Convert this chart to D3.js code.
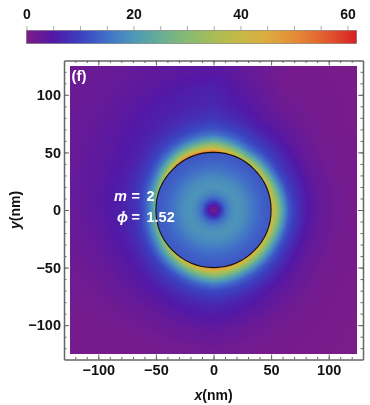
<!DOCTYPE html>
<html>
<head>
<meta charset="utf-8">
<script src="https://cdn.jsdelivr.net/npm/d3@7"></script>
<style>
  html, body { margin: 0; padding: 0; background: #fff; }
  #wrap { position: relative; width: 370px; height: 405px; overflow: hidden; }
  #field { position: absolute; left: 70px; top: 66px; image-rendering: pixelated; }
  svg { position: absolute; left: 0; top: 0; }
  text { font-family: "Liberation Sans", Arial, sans-serif; font-weight: bold; }
</style>
</head>
<body>
<div id="wrap">
  <canvas id="field"></canvas>
  <svg id="chart" width="370" height="405"></svg>
</div>
<script>
// colour legend
const colorStops = [0, 5, 10, 15, 20, 25, 30, 35, 40, 45, 50, 55, 60, 61.7];
const colorValues = ['#7d1c88', '#5218a6', '#3b40c0', '#4170c8', '#4e98b8', '#68ad96', '#88ba72',
  '#a9bd55', '#c6b945', '#dcab3e', '#e48d36', '#e26530', '#da3326', '#d81f22'];
const colorTicks = [0, 20, 40, 60];
const colorMinorTicks = [0, 5, 10, 15, 20, 25, 30, 35, 40, 45, 50, 55, 60];

const majorTicks = [-100, -50, 0, 50, 100];
const minorTicks = [-120, -110, -100, -90, -80, -70, -60, -50, -40, -30, -20, -10, 0,
  10, 20, 30, 40, 50, 60, 70, 80, 90, 100, 110, 120];

const discRadius = 50;

// inside the disc: value against radius
const innerRadii = [0, 3, 6, 10, 15, 20, 25, 30, 35, 40, 45, 50];
const innerValues = [1, 3, 8, 14, 18, 19.5, 19, 17.5, 15.5, 14, 13, 12.5];

// outside the disc: value for each angle (deg) and radius (nm)
const outerRadii = [50, 52, 55, 60, 65, 70, 80, 90, 105, 125, 150, 185];
const outerAngles = [0, 30, 60, 90, 120, 150, 180, 210, 240, 270, 300, 330];
const outerValues = [
  [45, 40, 33, 22, 13, 9.5, 5.5, 3.2, 1.6, 0.8, 0.5, 0.3],
  [42, 37, 28, 17, 11, 8.5, 5.5, 3.2, 1.6, 0.8, 0.5, 0.3],
  [40, 34, 26, 16, 11.5, 9.5, 6, 4, 2.2, 1.1, 0.8, 0.4],
  [57, 46, 36, 24, 16, 12, 8.5, 7, 6, 4, 2.5, 1.5],
  [58, 44, 32, 20, 13.5, 10.5, 7.5, 6, 5, 3.5, 2.5, 1.5],
  [38, 30, 22, 14, 10.5, 8.5, 6, 5, 4, 3, 2, 1.5],
  [27, 22, 17, 12, 9, 7.5, 6, 5, 3.5, 2.5, 1.5, 1],
  [34, 27, 21, 14, 10, 8, 5.5, 4.2, 2.8, 1.6, 1.1, 0.8],
  [48, 38, 28, 18, 12, 9.5, 6.5, 4.5, 2.6, 1.2, 0.8, 0.5],
  [52, 44, 35, 24, 15.5, 11, 7.5, 5.5, 3, 1.2, 0.7, 0.4],
  [50, 41, 31, 20, 13, 10, 6, 4, 2, 0.9, 0.5, 0.3],
  [44, 38, 30, 19, 12, 9, 5, 3, 1.5, 0.7, 0.4, 0.2]
];

const frame = { left: 64, right: 363, top: 60.5, bottom: 359.5 };

const xScale = d3.scaleLinear().domain([-129.8, 129.8]).range([frame.left, frame.right]);
const yScale = d3.scaleLinear().domain([-129.8, 129.8]).range([frame.bottom, frame.top]);
const color = d3.scaleLinear().domain(colorStops).range(colorValues).clamp(true);

const svg = d3.select('#chart');

// lookup helpers for the tables above
function lookup(xs, ys, v) {
  const i = Math.min(Math.max(d3.bisectRight(xs, v) - 1, 0), xs.length - 2);
  const t = (v - xs[i]) / (xs[i + 1] - xs[i]);
  return ys[i] + (ys[i + 1] - ys[i]) * t;
}

function fieldValue(x, y) {
  const r = Math.hypot(x, y);
  if (r < discRadius) return lookup(innerRadii, innerValues, r);
  let a = Math.atan2(y, x) * 180 / Math.PI;
  if (a < 0) a += 360;
  const i = Math.floor(a / 30) % outerAngles.length;
  const j = (i + 1) % outerAngles.length;
  const t = (a - outerAngles[i]) / 30;
  const v0 = lookup(outerRadii, outerValues[i], r);
  const v1 = lookup(outerRadii, outerValues[j], r);
  return v0 + (v1 - v0) * t;
}

// Draw the density image
function drawField() {
  const left = Math.round(xScale(-125));
  const right = Math.round(xScale(125));
  const top = Math.round(yScale(125));
  const bottom = Math.round(yScale(-125));
  const canvas = document.getElementById('field');
  canvas.width = right - left;
  canvas.height = bottom - top;
  canvas.style.left = left + 'px';
  canvas.style.top = top + 'px';
  const ctx = canvas.getContext('2d');
  for (let py = 0; py < canvas.height; py++) {
    for (let px = 0; px < canvas.width; px++) {
      const x = xScale.invert(left + px + 0.5);
      const y = yScale.invert(top + py + 0.5);
      ctx.fillStyle = color(fieldValue(x, y));
      ctx.fillRect(px, py, 1, 1);
    }
  }
}

// Draw the colour bar and its axis
function drawColorBar() {
  const barX = d3.scaleLinear().domain([0, 61.7]).range([26.5, 356.5]);
  const defs = svg.append('defs');
  const grad = defs.append('linearGradient').attr('id', 'bar');
  colorStops.forEach((s, i) => {
    grad.append('stop').attr('offset', s / 61.7).attr('stop-color', colorValues[i]);
  });
  svg.append('rect')
    .attr('x', barX(0)).attr('y', 30.5)
    .attr('width', barX(61.7) - barX(0)).attr('height', 13)
    .attr('fill', 'url(#bar)')
    .attr('stroke', '#555').attr('stroke-opacity', 0.6).attr('stroke-width', 0.8);

  const minor = svg.append('g').attr('transform', 'translate(0,30)')
    .call(d3.axisTop(barX).tickValues(colorMinorTicks).tickSize(4).tickFormat(''));
  minor.select('.domain').remove();
  minor.selectAll('line').attr('stroke', '#aaa');

  const major = svg.append('g').attr('transform', 'translate(0,30)')
    .call(d3.axisTop(barX).tickValues(colorTicks).tickSize(0).tickPadding(11).tickFormat(d3.format('d')));
  major.select('.domain').remove();
  major.selectAll('text').attr('font-size', 14).attr('fill', '#111')
    .style('font-family', '"Liberation Sans", Arial, sans-serif');
}

const fmt = (d) => (d < 0 ? '\u2212' + Math.abs(d) : String(d));

// One frame side: minor ticks, major ticks, optional labels
function frameSide(axisFn, scale, transform, labelled, padding) {
  const minor = svg.append('g').attr('transform', transform)
    .call(axisFn(scale).tickValues(minorTicks).tickSize(-2.5).tickSizeOuter(0).tickFormat(''));
  minor.selectAll('line').attr('stroke', '#666');
  minor.select('.domain').remove();

  const major = svg.append('g').attr('transform', transform)
    .call(axisFn(scale).tickValues(majorTicks).tickSize(-5).tickSizeOuter(0).tickPadding(padding)
      .tickFormat(labelled ? fmt : ''));
  major.selectAll('line').attr('stroke', '#666');
  major.select('.domain').attr('stroke', '#666').attr('stroke-width', 1.5);
  major.selectAll('text').attr('font-size', 14.5).attr('fill', '#111')
    .style('font-family', '"Liberation Sans", Arial, sans-serif');
}

function drawFrame() {
  frameSide(d3.axisBottom, xScale, `translate(0,${frame.bottom})`, true, 5);
  frameSide(d3.axisTop, xScale, `translate(0,${frame.top})`, false, 5);
  frameSide(d3.axisLeft, yScale, `translate(${frame.left},0)`, true, 3);
  frameSide(d3.axisRight, yScale, `translate(${frame.right},0)`, false, 3);
}

function drawAnnotations() {
  // disc outline
  svg.append('ellipse')
    .attr('cx', xScale(0)).attr('cy', yScale(0))
    .attr('rx', xScale(discRadius) - xScale(0))
    .attr('ry', yScale(0) - yScale(discRadius))
    .attr('fill', 'none').attr('stroke', '#111').attr('stroke-width', 1.1);

  const white = (x, y, size) => svg.append('text')
    .attr('x', x).attr('y', y).attr('font-size', size).attr('fill', '#fff');

  white(71.5, 81, 15).text('(f)');

  const m = white(114, 201, 14.5);
  m.append('tspan').attr('font-style', 'italic').text('m');
  white(131.5, 201, 14.5).text('=');
  white(146.5, 201, 14.5).text('2');

  const phi = white(117, 221.5, 14.5);
  phi.append('tspan').attr('font-style', 'italic').text('\u03d5');
  white(131.5, 221.5, 14.5).text('=');
  white(146.5, 221.5, 14.5).text('1.52');

  const xt = svg.append('text')
    .attr('x', xScale(0)).attr('y', 400)
    .attr('text-anchor', 'middle').attr('font-size', 14).attr('fill', '#111');
  xt.append('tspan').attr('font-style', 'italic').text('x');
  xt.append('tspan').text('(nm)');

  const yt = svg.append('text')
    .attr('transform', `translate(20,${yScale(0)}) rotate(-90)`)
    .attr('text-anchor', 'middle').attr('font-size', 14).attr('fill', '#111');
  yt.append('tspan').attr('font-style', 'italic').text('y');
  yt.append('tspan').text('(nm)');
}

drawField();
drawColorBar();
drawFrame();
drawAnnotations();
</script>
</body>
</html>
